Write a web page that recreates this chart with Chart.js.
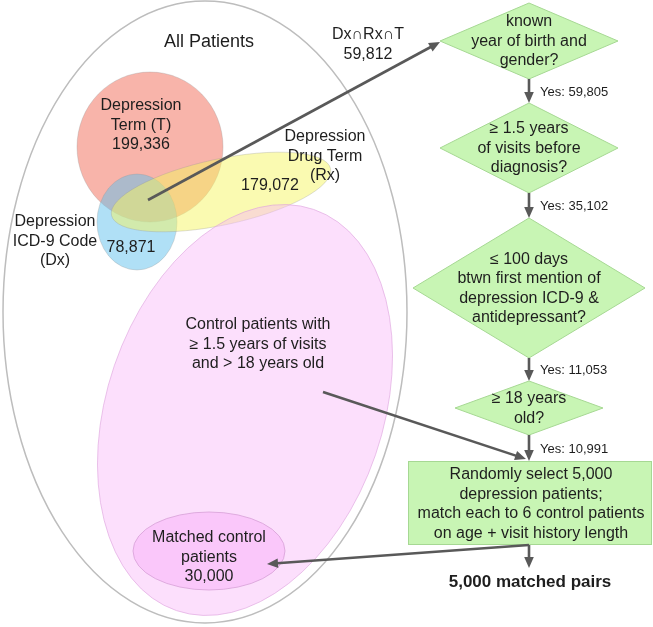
<!DOCTYPE html>
<html>
<head>
<meta charset="utf-8">
<script src="https://cdn.jsdelivr.net/npm/chart.js@4/dist/chart.umd.min.js"></script>
<style>
  body { margin: 0; background: #fff; }
  #wrap { width: 653px; height: 627px; }
</style>
</head>
<body>
<div id="wrap"><canvas id="flowChart"></canvas></div>
<script>
// values
const setLabels = [["Depression", "Term (T)"], ["Depression", "Drug Term", "(Rx)"], ["Depression", "ICD-9 Code", "(Dx)"]];
const setCounts = [199336, 179072, 78871];
const overlapLabel = "Dx∩Rx∩T";
const overlapCount = 59812;
const stepQuestions = [
    ["known", "year of birth and", "gender?"],
    ["≥ 1.5 years", "of visits before", "diagnosis?"],
    ["≤ 100 days", "btwn first mention of", "depression ICD-9 &", "antidepressant?"],
    ["≥ 18 years", "old?"]
];
const stepPassed = [59805, 35102, 11053, 10991];
const controlLabel = ["Control patients with", "≥ 1.5 years of visits", "and > 18 years old"];
const matchedLabel = ["Matched control", "patients"];
const matchedCount = 30000;
const matchStep = ["Randomly select 5,000", "depression patients;", "match each to 6 control patients", "on age + visit history length"];
const pairCount = 5000;

// where things sit on the 653 x 627 page (plot units)
const layout = {
    outer: { cx: 205, cy: 312, rx: 202, ry: 311 },
    sets: [
        { cx: 150, cy: 147, rx: 73, ry: 75, rot: 0, fill: "rgba(241,105,85,0.5)", tx: 141, ty: 106, nx: 141, ny: 147 },
        { cx: 221, cy: 192, rx: 112, ry: 33, rot: -0.21, fill: "rgba(245,245,100,0.5)", tx: 325, ty: 137, nx: 270, ny: 186 },
        { cx: 137, cy: 222, rx: 40, ry: 48, rot: 0, fill: "rgba(97,193,237,0.5)", tx: 55, ty: 222, nx: 131, ny: 248 }
    ],
    drawOrder: [0, 2, 1],
    control: { cx: 245, cy: 410, rx: 138, ry: 212, rot: 0.33, tx: 258, ty: 325 },
    matched: { cx: 209, cy: 551, rx: 76, ry: 39, tx: 209, ty: 538 },
    steps: [
        { cx: 529, cy: 41, hw: 89, hh: 38 },
        { cx: 529, cy: 148, hw: 89, hh: 45 },
        { cx: 529, cy: 288, hw: 116, hh: 70 },
        { cx: 529, cy: 408, hw: 74, hh: 27 }
    ],
    box: { x1: 408, y1: 461, x2: 652, y2: 545 },
    overlapText: { x: 368, y: 35 },
    overlapArrow: [148, 200, 440, 42],
    controlArrow: [323, 392, 526, 459],
    matchedArrow: [529, 545, 267, 564],
    pairsArrow: [529, 545, 529, 568],
    pairsText: { x: 530, y: 582 },
    allText: { x: 209, y: 42 },
    lh: 19.5
};

const FONT = "'Liberation Sans', Arial, Helvetica, sans-serif";
const fmt = n => n.toLocaleString("en-US");

const diagramPlugin = {
    id: "diagram",
    afterDatasetsDraw(chart) {
        const c = chart.ctx;
        const xs = chart.scales.x, ys = chart.scales.y;
        const px = v => xs.getPixelForValue(v);
        const py = v => ys.getPixelForValue(v);
        const sx = v => px(v) - px(0);
        const sy = v => py(v) - py(0);

        function ellipse(e, fill, stroke, lw) {
            c.beginPath();
            c.ellipse(px(e.cx), py(e.cy), sx(e.rx), sy(e.ry), e.rot || 0, 0, Math.PI * 2);
            if (fill) { c.fillStyle = fill; c.fill(); }
            if (stroke) { c.strokeStyle = stroke; c.lineWidth = lw || 1; c.stroke(); }
        }
        function lines(arr, x, y, size, weight) {
            c.font = (weight || "normal") + " " + size + "px " + FONT;
            c.fillStyle = "#1e1e1e";
            c.textAlign = "center";
            c.textBaseline = "middle";
            arr.forEach((t, i) => c.fillText(t, px(x), py(y + i * layout.lh)));
        }
        function arrow(a) {
            const x1 = px(a[0]), y1 = py(a[1]), x2 = px(a[2]), y2 = py(a[3]);
            const ang = Math.atan2(y2 - y1, x2 - x1);
            const hl = 11, hw = 4.8;
            c.strokeStyle = "#595959";
            c.fillStyle = "#595959";
            c.lineWidth = 2.6;
            c.beginPath();
            c.moveTo(x1, y1);
            c.lineTo(x2 - Math.cos(ang) * (hl - 1), y2 - Math.sin(ang) * (hl - 1));
            c.stroke();
            c.beginPath();
            c.moveTo(x2, y2);
            c.lineTo(x2 - Math.cos(ang) * hl - Math.sin(ang) * hw, y2 - Math.sin(ang) * hl + Math.cos(ang) * hw);
            c.lineTo(x2 - Math.cos(ang) * hl + Math.sin(ang) * hw, y2 - Math.sin(ang) * hl - Math.cos(ang) * hw);
            c.closePath();
            c.fill();
        }

        c.save();
        // all patients
        ellipse(layout.outer, null, "#bdbdbd", 1.5);
        lines(["All Patients"], layout.allText.x, layout.allText.y, 18);

        // venn of the three depression sets
        layout.drawOrder.forEach(i => {
            const s = layout.sets[i];
            ellipse(s, s.fill, "rgba(150,150,150,0.3)", 1);
        });
        // control patients on top of the sets
        ellipse(layout.control, "rgba(248,185,248,0.45)", "rgba(220,160,220,0.6)", 1);
        ellipse(layout.matched, "rgba(245,150,245,0.32)", "rgba(215,160,215,0.8)", 1);

        layout.sets.forEach((s, i) => {
            if (i === 0) {
                lines(setLabels[i].concat([fmt(setCounts[i])]), s.tx, s.ty, 16);
            } else {
                lines(setLabels[i], s.tx, s.ty, 16);
                lines([fmt(setCounts[i])], s.nx, s.ny, 16);
            }
        });
        lines([overlapLabel, fmt(overlapCount)], layout.overlapText.x, layout.overlapText.y, 16);
        lines(controlLabel, layout.control.tx, layout.control.ty, 16);
        lines(matchedLabel.concat([fmt(matchedCount)]), layout.matched.tx, layout.matched.ty, 16);

        // flow steps
        const green = "#c8f5b4", greenLine = "#a6d893";
        layout.steps.forEach((d, i) => {
            c.beginPath();
            c.moveTo(px(d.cx), py(d.cy - d.hh));
            c.lineTo(px(d.cx + d.hw), py(d.cy));
            c.lineTo(px(d.cx), py(d.cy + d.hh));
            c.lineTo(px(d.cx - d.hw), py(d.cy));
            c.closePath();
            c.fillStyle = green;
            c.fill();
            c.strokeStyle = greenLine;
            c.lineWidth = 1;
            c.stroke();
            const q = stepQuestions[i];
            lines(q, d.cx, d.cy + 0.5 - (q.length - 1) * layout.lh / 2, 16);
            // arrow to the next step
            const next = i + 1 < layout.steps.length ? layout.steps[i + 1].cy - layout.steps[i + 1].hh : layout.box.y1;
            const top = d.cy + d.hh;
            arrow([d.cx, top, d.cx, next]);
            c.font = "13px " + FONT;
            c.fillStyle = "#1e1e1e";
            c.textAlign = "left";
            c.textBaseline = "middle";
            c.fillText("Yes: " + fmt(stepPassed[i]), px(d.cx + 11), py((top + next) / 2 + 1));
        });

        const b = layout.box;
        c.fillStyle = green;
        c.fillRect(px(b.x1), py(b.y1), sx(b.x2 - b.x1), sy(b.y2 - b.y1));
        c.strokeStyle = greenLine;
        c.lineWidth = 1;
        c.strokeRect(px(b.x1) + 0.5, py(b.y1) + 0.5, sx(b.x2 - b.x1) - 1, sy(b.y2 - b.y1) - 1);
        lines(matchStep, (b.x1 + b.x2) / 2 + 1, (b.y1 + b.y2) / 2 + 1 - (matchStep.length - 1) * layout.lh / 2, 16);

        arrow(layout.overlapArrow);
        arrow(layout.controlArrow);
        arrow(layout.matchedArrow);
        arrow(layout.pairsArrow);
        lines([fmt(pairCount) + " matched pairs"], layout.pairsText.x, layout.pairsText.y, 17, "bold");
        c.restore();
    }
};

const chart = new Chart(document.getElementById("flowChart").getContext("2d"), {
    type: "scatter",
    data: { datasets: [{ data: [] }] },
    options: {
        responsive: true,
        maintainAspectRatio: false,
        animation: false,
        layout: { padding: 0 },
        plugins: { legend: { display: false }, tooltip: { enabled: false } },
        scales: {
            x: { type: "linear", min: 0, max: 653, display: false },
            y: { type: "linear", min: 0, max: 627, reverse: true, display: false }
        }
    },
    plugins: [diagramPlugin]
});
</script>
</body>
</html>
